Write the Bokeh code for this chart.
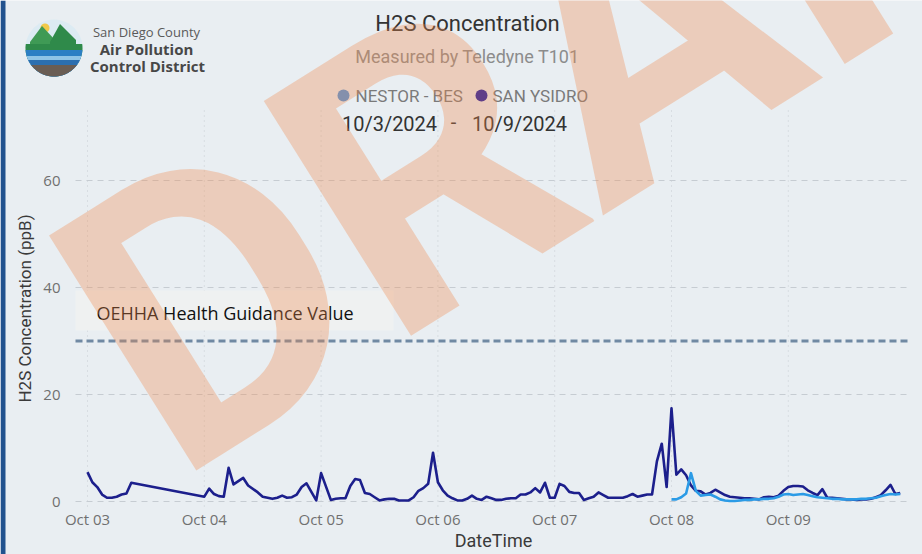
import numpy as np
import pandas as pd
from bokeh.plotting import figure
from bokeh.models import Range1d, Label, BoxAnnotation, ColumnDataSource
from bokeh.core.properties import value
from bokeh.embed import file_html
from bokeh.resources import INLINE

# ---------------- data ----------------
START = "2024-10-03 00:00"
series_names = ["NESTOR - BES", "SAN YSIDRO"]
series_colors = ["#2b9be6", "#1c1f8c"]
legend_colors = ["#4f94dc", "#1a1aa6"]

sy_hours = [0, 1, 2, 3, 4, 5, 6, 7, 8, 9,
            24, 25, 26, 27, 28, 29, 30, 32, 33, 35, 36, 38, 39, 40, 41, 42, 43, 44, 45, 47,
            48, 50, 51, 52, 53, 54, 55, 56, 57, 58, 59, 60, 61, 62, 63, 64, 65, 66, 67, 68,
            69, 70, 71, 72, 73, 74, 75, 76, 77, 78, 79, 80, 81, 82, 83, 84, 85, 86, 87, 88,
            89, 90, 91, 92, 93, 94, 95, 96, 97, 98, 99, 100, 101, 102, 103, 104, 105, 106, 107, 108,
            109, 110, 111, 112, 113, 114, 115, 116, 117, 118, 119, 120, 121, 122, 123, 124, 125, 126, 127, 128,
            129, 130, 131, 132, 133, 134, 135, 136, 137, 138, 139, 140, 141, 142, 143, 144, 145, 146, 147, 148,
            149, 150, 151, 152, 153, 154, 155, 156, 157, 158, 159, 160, 161, 162, 163, 164, 165, 166, 167]
sy_values = [5.5, 3.6, 2.7, 1.3, 0.7, 0.7, 0.9, 1.3, 1.5, 3.5,
             0.9, 2.4, 1.4, 1.0, 0.9, 6.3, 3.2, 4.4, 3.0, 1.7, 0.9, 0.5, 0.7, 1.1, 0.7, 0.8, 1.3, 2.7, 3.4, 0.2,
             5.3, 0.3, 0.5, 0.6, 0.6, 2.9, 4.2, 4.0, 1.6, 1.4, 0.8, 0.2, 0.4, 0.5, 0.5, 0.2, 0.2, 0.2, 0.8, 2.0,
             2.5, 3.3, 9.1, 3.6, 2.1, 1.1, 0.6, 0.2, 0.2, 0.5, 1.1, 0.5, 0.3, 0.9, 0.6, 0.3, 0.3, 0.5, 0.6, 0.6,
             1.3, 1.3, 1.7, 2.5, 1.7, 3.5, 0.7, 0.7, 3.3, 2.9, 1.8, 1.6, 1.6, 0.3, 0.6, 0.9, 1.7, 1.2, 0.7, 0.7,
             0.7, 0.7, 1.0, 1.4, 0.9, 1.1, 1.3, 1.3, 7.5, 10.8, 2.7, 17.4, 5.0, 6.0, 4.9, 3.0, 2.0, 1.9, 1.3, 1.6,
             2.2, 1.7, 1.2, 0.9, 0.8, 0.7, 0.6, 0.6, 0.5, 0.4, 0.8, 0.9, 0.8, 1.1, 2.0, 2.7, 2.9, 2.9, 2.8, 2.1,
             1.6, 1.2, 2.3, 0.7, 0.7, 0.6, 0.5, 0.4, 0.4, 0.3, 0.4, 0.4, 0.5, 0.8, 1.2, 2.1, 3.1, 1.4, 1.6]

nb_hours = [120, 121, 122, 123, 124, 125, 126, 127, 128, 129, 130, 131, 132, 133, 134, 135, 136, 137, 138, 139,
            140, 141, 142, 143, 144, 145, 146, 147, 148, 149, 150, 151, 152, 153, 154, 155, 156, 157, 158, 159,
            160, 161, 162, 163, 164, 165, 166, 167]
nb_values = [0.4, 0.4, 0.8, 1.5, 5.3, 2.0, 1.1, 1.2, 1.3, 0.9, 0.4, 0.2, 0.1, 0.1, 0.2, 0.3, 0.3, 0.4, 0.4, 0.5,
             0.5, 0.6, 0.9, 1.3, 1.4, 1.2, 1.3, 1.4, 1.2, 1.0, 0.8, 0.7, 0.6, 0.5, 0.5, 0.4, 0.4, 0.4, 0.4, 0.5,
             0.5, 0.6, 0.7, 1.0, 1.2, 1.4, 1.3, 1.4]

x_tick_dates = ["2024-10-03", "2024-10-04", "2024-10-05", "2024-10-06",
                "2024-10-07", "2024-10-08", "2024-10-09"]
y_ticks = [0, 20, 40, 60]
guidance_value = 30
guidance_label = "OEHHA Health Guidance Value"
title = "H2S Concentration"
subtitle = "Measured by Teledyne T101"
x_title = "DateTime"
y_title = "H2S Concentration (ppB)"
date_from, date_to = "10/3/2024", "10/9/2024"
logo_lines = ["San Diego County", "Air Pollution", "Control District"]
watermark = "DRAFT"

# ---------------- geometry (picture pixels) ----------------
W, H = 922, 554
PL, PR, PT, PB = 75, 911, 110, 506    # plot area
BG = "#e9eef2"
PX_PER_DAY = 116.8
PX_PER_UNIT = 5.35
X0_PX = 87                            # x of first timestamp
Y0_PX = 501                           # y of value 0

t0 = pd.Timestamp(START)
sy_t = t0 + pd.to_timedelta(sy_hours, unit="h")
nb_t = t0 + pd.to_timedelta(nb_hours, unit="h")
x_start = t0 - pd.Timedelta(days=X0_PX / PX_PER_DAY)
x_end = x_start + pd.Timedelta(days=W / PX_PER_DAY)
y_lo = -(H - Y0_PX) / PX_PER_UNIT
y_hi = Y0_PX / PX_PER_UNIT

p = figure(width=W, height=H, x_range=Range1d(x_start, x_end), y_range=Range1d(y_lo, y_hi),
           frame_width=W, frame_height=H, min_border=0,
           x_axis_type=None, y_axis_type=None,
           output_backend="svg", toolbar_location=None)
p.extra_x_ranges = {"px": Range1d(0, W)}
p.extra_y_ranges = {"py": Range1d(H, 0)}
p.background_fill_color = BG
p.border_fill_color = BG
p.outline_line_color = None

PXR = dict(x_range_name="px")
PYR = dict(y_range_name="py")
PXY = dict(x_range_name="px", y_range_name="py")

# dark screen edge at the far left
p.add_layout(BoxAnnotation(left=0, right=5, top=0, bottom=H, fill_color="#22528e",
                           fill_alpha=1, line_color=None, **PXY))

tick_t = [pd.Timestamp(d) for d in x_tick_dates]
tick_lbl = [t.strftime("%b %d") for t in tick_t]

# grid
p.segment(x0=[PL] * len(y_ticks), x1=[PR] * len(y_ticks), y0=y_ticks, y1=y_ticks,
          line_color="#c6ccd2", line_width=1, line_dash="6 5", **PXR)
p.segment(x0=tick_t, x1=tick_t, y0=[PB] * len(tick_t), y1=[PT] * len(tick_t),
          line_color="#c6ccd2", line_width=1, line_dash="1 4", **PYR)

# axis tick labels and titles
p.text(x=tick_t, y=[518] * len(tick_t), text=tick_lbl, text_font=value("Open Sans"),
       text_font_size="15px", text_color="#707070", text_align="center",
       text_baseline="middle", **PYR)
p.text(x=[60] * len(y_ticks), y=y_ticks, text=[str(v) for v in y_ticks],
       text_font=value("Open Sans"), text_font_size="15px", text_color="#707070",
       text_align="right", text_baseline="middle", **PXR)


def lab(x, y, text, **kw):
    p.add_layout(Label(x=x, y=y, text=text, **PXY, **kw))


lab((PL + PR) / 2, 540, x_title, text_font="Roboto", text_font_size="18px",
    text_color="#3a3a3a", text_align="center", text_baseline="middle")
lab(24, (PT + PB) / 2, y_title, text_font="Roboto", text_font_size="17px",
    text_color="#3a3a3a", text_align="center", text_baseline="middle", angle=np.pi / 2)

# guidance line and label
p.segment(x0=[PL], x1=[PR], y0=[guidance_value], y1=[guidance_value],
          line_color="#7089a3", line_width=3, line_dash="7 4", **PXR)
p.add_layout(BoxAnnotation(left=75, right=393, top=290, bottom=330, fill_color="#eff1f1",
                           fill_alpha=1, line_color=None, **PXY))
lab(96, 312, guidance_label, text_font="Open Sans", text_font_size="18px",
    text_color="#111111", text_baseline="middle", text_align="left")

# series
src_sy = ColumnDataSource(dict(t=sy_t, v=sy_values))
src_nb = ColumnDataSource(dict(t=nb_t, v=nb_values))
p.line("t", "v", source=src_sy, line_color=series_colors[1], line_width=2.6, line_join="round")
p.line("t", "v", source=src_nb, line_color=series_colors[0], line_width=2.6, line_join="round")

# header
lab(467, 23, title, text_font="Roboto", text_font_size="22px",
    text_color="#333333", text_align="center", text_baseline="middle")
lab(467, 56, subtitle, text_font="Roboto", text_font_size="18px",
    text_color="#8c8c8c", text_align="center", text_baseline="middle")
lab(355, 95, series_names[0], text_font="Roboto", text_font_size="17px",
    text_color="#7a7a7a", text_align="left", text_baseline="middle")
lab(492, 95, series_names[1], text_font="Roboto", text_font_size="17px",
    text_color="#7a7a7a", text_align="left", text_baseline="middle")
for x, y, t in ((389, 123, date_from), (453, 121, "-"), (519, 123, date_to)):
    lab(x, y, t, text_font="Roboto", text_font_size="20px",
        text_color="#333333", text_align="center", text_baseline="middle")

p.scatter(x=[343, 481], y=[95, 95], size=12, marker="circle", fill_color=legend_colors,
          line_color=None, **PXY)


def patch(xs, ys, color):
    p.patch(x=list(xs), y=list(ys), fill_color=color, line_color=None, **PXY)


def circle_pts(xc, yc, r, n=48):
    a = np.linspace(0, 2 * np.pi, n, endpoint=False)
    return xc + r * np.cos(a), yc + r * np.sin(a)


def segment_below(xc, yc, r, ycut, n=60):
    s = np.clip((ycut - yc) / r, -1, 1)
    a0 = np.arcsin(s)
    a = np.linspace(a0, np.pi - a0, n)
    return xc + r * np.cos(a), yc + r * np.sin(a)


# logo
LX, LY, LR = 53.5, 47.5, 28.5
patch(*circle_pts(LX, LY, LR), "#dcebf3")
patch(*circle_pts(LX - 9, LY - 20, 4.5), "#f1c94a")
patch([LX - 24, LX - 12, LX + 1, LX + 1, LX - 24], [LY - 6, LY - 22, LY - 8, LY + 2, LY + 2], "#3f9a55")
patch([LX - 4, LX + 6, LX + 22, LX + 22, LX - 4], [LY - 6, LY - 24, LY - 8, LY + 2, LY + 2], "#2f8a4a")
for cut, col in ((LY - 4, "#2f8a4a"), (LY + 2, "#2c7fc4"), (LY + 8, "#8fc4e6"),
                 (LY + 12, "#2c6fb0"), (LY + 17, "#6a5d54")):
    patch(*segment_below(LX, LY, LR, cut), col)

lab(146, 31, logo_lines[0], text_font="Open Sans", text_font_size="13px",
    text_color="#5a5a5a", text_align="center", text_baseline="middle")
lab(146, 48, logo_lines[1], text_font="Open Sans", text_font_size="15px",
    text_font_style="bold", text_color="#474747", text_align="center", text_baseline="middle")
lab(147, 65, logo_lines[2], text_font="Open Sans", text_font_size="15px",
    text_font_style="bold", text_color="#474747", text_align="center", text_baseline="middle")

# watermark
lab(104, 370, watermark, text_font="Roboto", text_font_size="390px",
    text_font_style="bold", text_color="#f08a4b", text_alpha=0.33,
    text_align="left", text_baseline="alphabetic", angle=0.56, level="overlay")

open("out.html", "w").write(file_html(p, INLINE))
